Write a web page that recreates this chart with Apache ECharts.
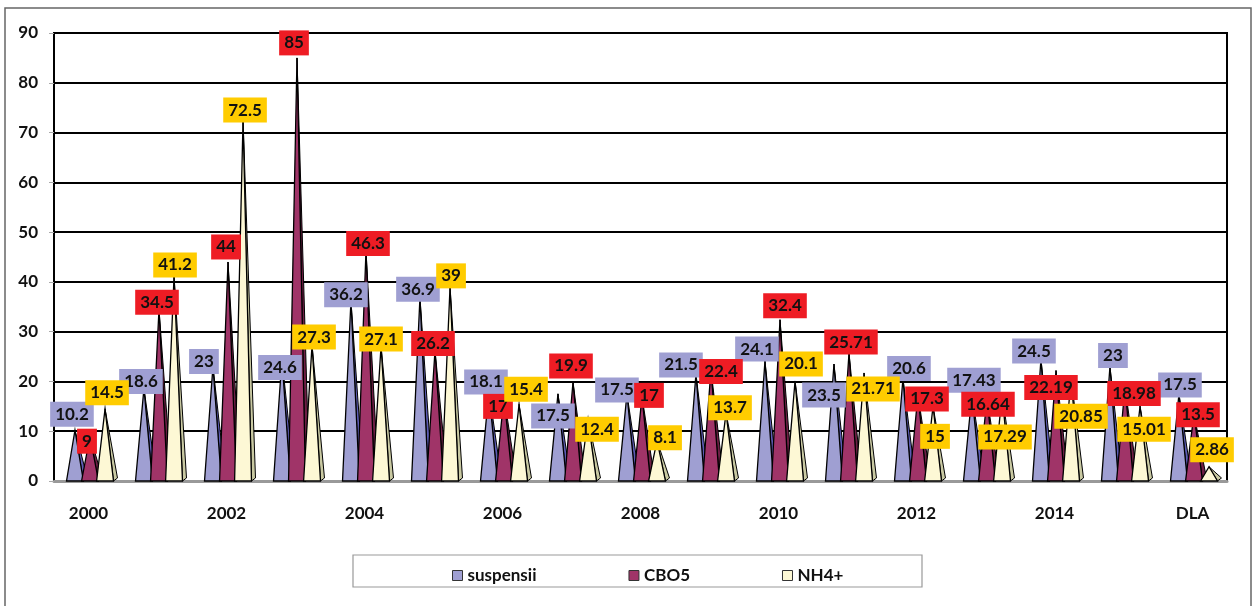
<!DOCTYPE html>
<html>
<head>
<meta charset="utf-8">
<script src="https://cdn.jsdelivr.net/npm/echarts@6/dist/echarts.min.js"></script>
<style>
  html, body { margin: 0; padding: 0; background: #fff; }
  #main { width: 1253px; height: 606px; }
</style>
</head>
<body>
<div id="main"></div>
<script>
// categories + values
var categories = ['2000', '2001', '2002', '2003', '2004', '2005', '2006', '2007', '2008',
    '2009', '2010', '2011', '2012', '2013', '2014', '2015', 'DLA'];
var suspensii = [10.2, 18.6, 23, 24.6, 36.2, 36.9, 18.1, 17.5, 17.5, 21.5, 24.1, 23.5, 20.6, 17.43, 24.5, 23, 17.5];
var cbo5 = [9, 34.5, 44, 85, 46.3, 26.2, 17, 19.9, 17, 22.4, 32.4, 25.71, 17.3, 16.64, 22.19, 18.98, 13.5];
var nh4 = [14.5, 41.2, 72.5, 27.3, 27.1, 39, 15.4, 12.4, 8.1, 13.7, 20.1, 21.71, 15, 17.29, 20.85, 15.01, 2.86];
var yTicks = [0, 10, 20, 30, 40, 50, 60, 70, 80, 90];

// label shifts from the peak (px), like the manual placement in the original
var suspLabelShift = [[-3, -16], [-3, -7], [-9, -5], [-2, 9], [-5, -6], [-2, -8], [-3, -9], [-5, 22], [-10, -4],
    [-15, -9], [-8, -12], [-10, 31], [6, -10], [2, -14], [-7, -8], [3, -11], [1, -9]];
var cboLabelShift = [[-3, 5], [-2, -7], [-2, -15], [-3, -15], [2, -7], [-2, -7], [-6, 10], [-2, -16], [7, -1],
    [10, 2], [5, -14], [2, -11], [9, 4], [1, 6], [-5, 17], [9, 7], [4, 1]];
var nhLabelShift = [[2, -16], [1, -11], [2, -10], [2, -8], [0, -7], [1, -11], [7, -15], [9, 10], [8, -3],
    [4, -5], [6, -17], [9, 16], [2, 30], [3, 42], [10, 39], [4, 23], [3, -17]];

var myChart = echarts.init(document.getElementById('main'));

function pyramid(s, front, side, labelBg, shifts) {
    return function(params, api) {
        var i = api.value(0);
        var v = api.value(1);
        var top = api.coord([i, v]);
        var base = api.coord([i, 0]);
        var band = api.size([1, 0])[0];
        var w = band * 0.245;
        var cx = top[0] + 1.5 + (s - 1) * band * 0.218;
        var by = base[1];
        var ty = top[1];
        var sh = shifts[params.dataIndex];
        return {
            type: 'group',
            children: [{
                type: 'polygon',
                shape: { points: [[cx, ty], [cx + w / 2, by], [cx + w / 2 + 4, by - 3]] },
                style: { fill: side, stroke: '#000', lineWidth: 1 }
            }, {
                type: 'polygon',
                shape: { points: [[cx - w / 2, by], [cx, ty], [cx + w / 2, by]] },
                style: { fill: front, stroke: '#000', lineWidth: 1.3 }
            }, {
                type: 'text',
                z2: 100,
                x: cx + sh[0],
                y: ty + sh[1],
                style: {
                    text: String(v),
                    font: 'bold 17px Lato',
                    fill: '#111',
                    align: 'center',
                    verticalAlign: 'middle',
                    backgroundColor: labelBg,
                    padding: [5, 5, 3, 5]
                }
            }]
        };
    };
}

function pairs(arr) {
    var out = [];
    for (var i = 0; i < arr.length; i++) {
        out.push([i, arr[i]]);
    }
    return out;
}

var option = {
    animation: false,
    backgroundColor: '#fff',
    graphic: [{
        type: 'rect',
        shape: { x: 5, y: 8, width: 1246, height: 600 },
        style: { fill: 'none', stroke: '#666', lineWidth: 1.5 },
        silent: true
    }, {
        type: 'rect',
        shape: { x: 353, y: 555, width: 569, height: 32 },
        style: { fill: 'none', stroke: '#999', lineWidth: 1.2 },
        silent: true
    }],
    grid: {
        left: 54,
        right: 26,
        top: 33,
        bottom: 125,
        show: true,
        borderColor: '#000',
        borderWidth: 2
    },
    legend: {
        left: 447,
        top: 562,
        itemWidth: 10,
        itemHeight: 10,
        itemGap: 92,
        textStyle: { fontFamily: 'Lato', fontWeight: 'bold', fontSize: 17, color: '#111' },
        data: [
            { name: 'suspensii', icon: 'rect', itemStyle: { color: '#9f9fd2', borderColor: '#333', borderWidth: 1 } },
            { name: 'CBO5', icon: 'rect', itemStyle: { color: '#a03468', borderColor: '#333', borderWidth: 1 } },
            { name: 'NH4+', icon: 'rect', itemStyle: { color: '#fdf8d5', borderColor: '#333', borderWidth: 1 } }
        ]
    },
    xAxis: {
        type: 'category',
        data: categories,
        axisLine: { lineStyle: { color: '#999', width: 3 } },
        axisTick: { interval: 0, length: 7, lineStyle: { color: '#aaa' } },
        axisLabel: {
            interval: 1,
            margin: 24,
            fontFamily: 'Lato',
            fontWeight: 'bold',
            fontSize: 17,
            color: '#111'
        },
        splitLine: { show: false }
    },
    yAxis: {
        type: 'value',
        min: yTicks[0],
        max: yTicks[yTicks.length - 1],
        interval: 10,
        axisLine: { show: true, lineStyle: { color: '#000', width: 2 } },
        axisTick: { show: true, length: 5, lineStyle: { color: '#aaa' } },
        axisLabel: {
            margin: 16,
            fontFamily: 'Lato',
            fontWeight: 'bold',
            fontSize: 17,
            color: '#111'
        },
        splitLine: { lineStyle: { color: '#000', width: 2 } }
    },
    series: [{
        name: 'suspensii',
        type: 'custom',
        itemStyle: { color: '#9f9fd2' },
        renderItem: pyramid(0, '#9f9fd2', '#5c5cb4', '#9f9fd2', suspLabelShift),
        encode: { x: 0, y: 1 },
        data: pairs(suspensii)
    }, {
        name: 'CBO5',
        type: 'custom',
        itemStyle: { color: '#a03468' },
        renderItem: pyramid(1, '#a03468', '#6e1f45', '#ee1c24', cboLabelShift),
        encode: { x: 0, y: 1 },
        data: pairs(cbo5)
    }, {
        name: 'NH4+',
        type: 'custom',
        itemStyle: { color: '#fdf8d5' },
        renderItem: pyramid(2, '#fdf8d5', '#c9c9a2', '#ffcc00', nhLabelShift),
        encode: { x: 0, y: 1 },
        data: pairs(nh4)
    }]
};

myChart.setOption(option);
</script>
</body>
</html>
